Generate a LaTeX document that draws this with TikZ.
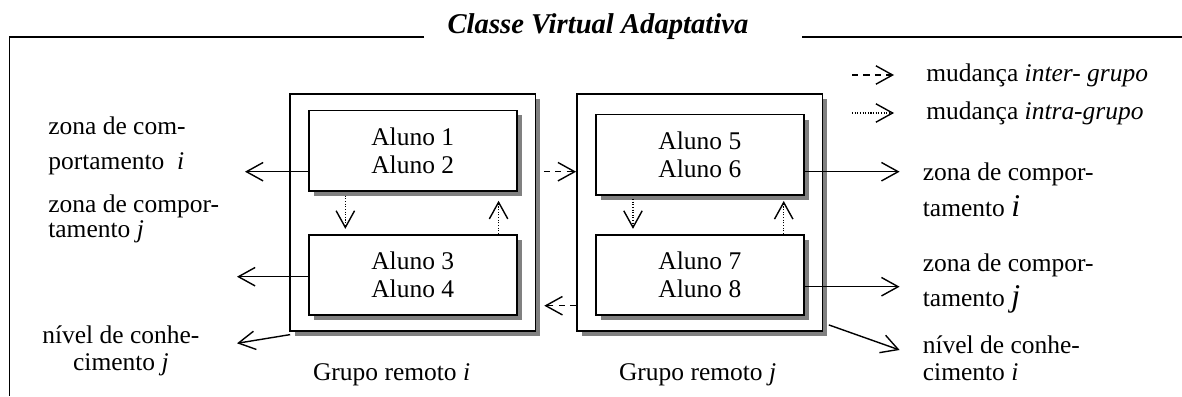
\documentclass[tikz,border=0pt]{standalone}
\usepackage{fontspec}
\setmainfont{Liberation Serif}
\usetikzlibrary{arrows.meta,shadows}
\begin{document}
\begin{tikzpicture}[x=0.02cm, y=-0.02cm,
  txt/.style={node font=\fontsize{14.5}{19.8}\selectfont, inner sep=0pt},
  sombra/.style={general shadow={fill=black!50, shadow xshift=0.1cm, shadow yshift=-0.1cm}},
  grupo/.style={draw, fill=white, line width=1pt, minimum width=4.91cm, minimum height=4.73cm, sombra},
  aluno/.style={draw, fill=white, line width=1pt, minimum width=4.16cm, minimum height=1.61cm, align=center, inner sep=0pt, node font=\fontsize{14.5}{16}\selectfont, sombra},
  seta/.style={-{Straight Barb[length=9.5pt, width=10.5pt]}, line width=0.8pt},
  inter/.style={seta, dash pattern=on 3.5pt off 3pt},
  intra/.style={seta, dash pattern=on 0.6pt off 0.9pt}]
\useasboundingbox (0,0) rectangle (1182,396);
\node [node font=\fontsize{16.3}{19}\selectfont\bfseries\itshape, inner sep=0pt] (titulo) at (598,26.7) {Classe Virtual Adaptativa};
\draw [line width=1pt] (424,36.7) -- (9.6,36.7) -- (9.6,396);
\draw [line width=1pt] (802,36.7) -- (1182,36.7);
\node [grupo] (gi) at (412.75,212.5) {};
\node [grupo] (gj) at (699.7,212.5) {};
\node [aluno] (a12) at (412.7,150.65) {Aluno 1\\Aluno 2};
\node [aluno] (a34) at (412.7,275) {Aluno 3\\Aluno 4};
\node [aluno] (a56) at (699.85,154.85) {Aluno 5\\Aluno 6};
\node [aluno] (a78) at (699.85,275) {Aluno 7\\Aluno 8};
\node [txt] (gri) at (391.6,375) {Grupo remoto \textit{i}};
\node [txt] (grj) at (697.6,375) {Grupo remoto \textit{j}};
\node [txt, anchor=west, align=left] (zi1) at (48,145.8) {zona de com-\\portamento\ \ \textit{i}};
\node [txt, anchor=west, align=left] (zj1) at (48,219) {zona de compor-\\[-5.6pt]tamento \textit{j}};
\node [txt, anchor=west, align=center] (nj1) at (42,351) {nível de conhe-\\[-4.1pt]cimento \textit{j}};
\node [txt, anchor=west, align=left] (zi2) at (922.5,190) {zona de compor-\\[1pt]tamento {\fontsize{18}{20}\selectfont\textit{i}}};
\node [txt, anchor=west, align=left] (zj2) at (922.5,283.5) {zona de compor-\\[0.6pt]tamento {\fontsize{18}{20}\selectfont\textit{j}}};
\node [txt, anchor=west, align=left] (ni2) at (922.5,358) {nível de conhe-\\[-4.7pt]cimento \textit{i}};
\node [txt, anchor=west] (linter) at (926,75) {mudança \textit{inter- grupo}};
\node [txt, anchor=west] (lintra) at (926,113) {mudança \textit{intra-grupo}};
\draw [inter] ([xshift=-1.48cm]linter.west) -- ([xshift=-0.64cm]linter.west);
\draw [intra] ([xshift=-1.48cm]lintra.west) -- ([xshift=-0.64cm]lintra.west);
\coordinate (ei1) at (245,171.7);
\coordinate (ej1) at (237,276.7);
\coordinate (enj) at (237,343.3);
\coordinate (eti) at (899.6,171.7);
\coordinate (etj) at (899.6,286.7);
\coordinate (eni) at (899.6,350);
\coordinate (evolta) at (544.3,305.7);
\draw [seta] (a12.west |- ei1) -- (ei1);
\draw [seta] (a34.west |- ej1) -- (ej1);
\draw [seta] ([shift={(1,3)}]gi.south west) -- (enj);
\draw [seta] (a56.east |- eti) -- (eti);
\draw [seta] (a78.east |- etj) -- (etj);
\draw [seta] ([shift={(5.5,-6.7)}]gj.south east) -- (eni);
\draw [inter, shorten <=0.15cm] (gi.east |- ei1) -- (gj.west |- ei1);
\draw [inter] (gj.west |- evolta) -- (evolta);
\draw [intra, shorten <=0.08cm, shorten >=0.1cm] ([xshift=0.75cm]a12.south west) -- ([xshift=0.75cm]a34.north west);
\draw [intra, shorten >=0.18cm] ([xshift=-0.38cm]a34.north east) -- ([xshift=-0.38cm]a12.south east);
\draw [intra, shorten <=0.06cm, shorten >=0.1cm] ([xshift=0.76cm]a56.south west) -- ([xshift=0.76cm]a78.north west);
\draw [intra, shorten >=0.1cm] ([xshift=-0.42cm]a78.north east) -- ([xshift=-0.42cm]a56.south east);
\end{tikzpicture}
\end{document}
